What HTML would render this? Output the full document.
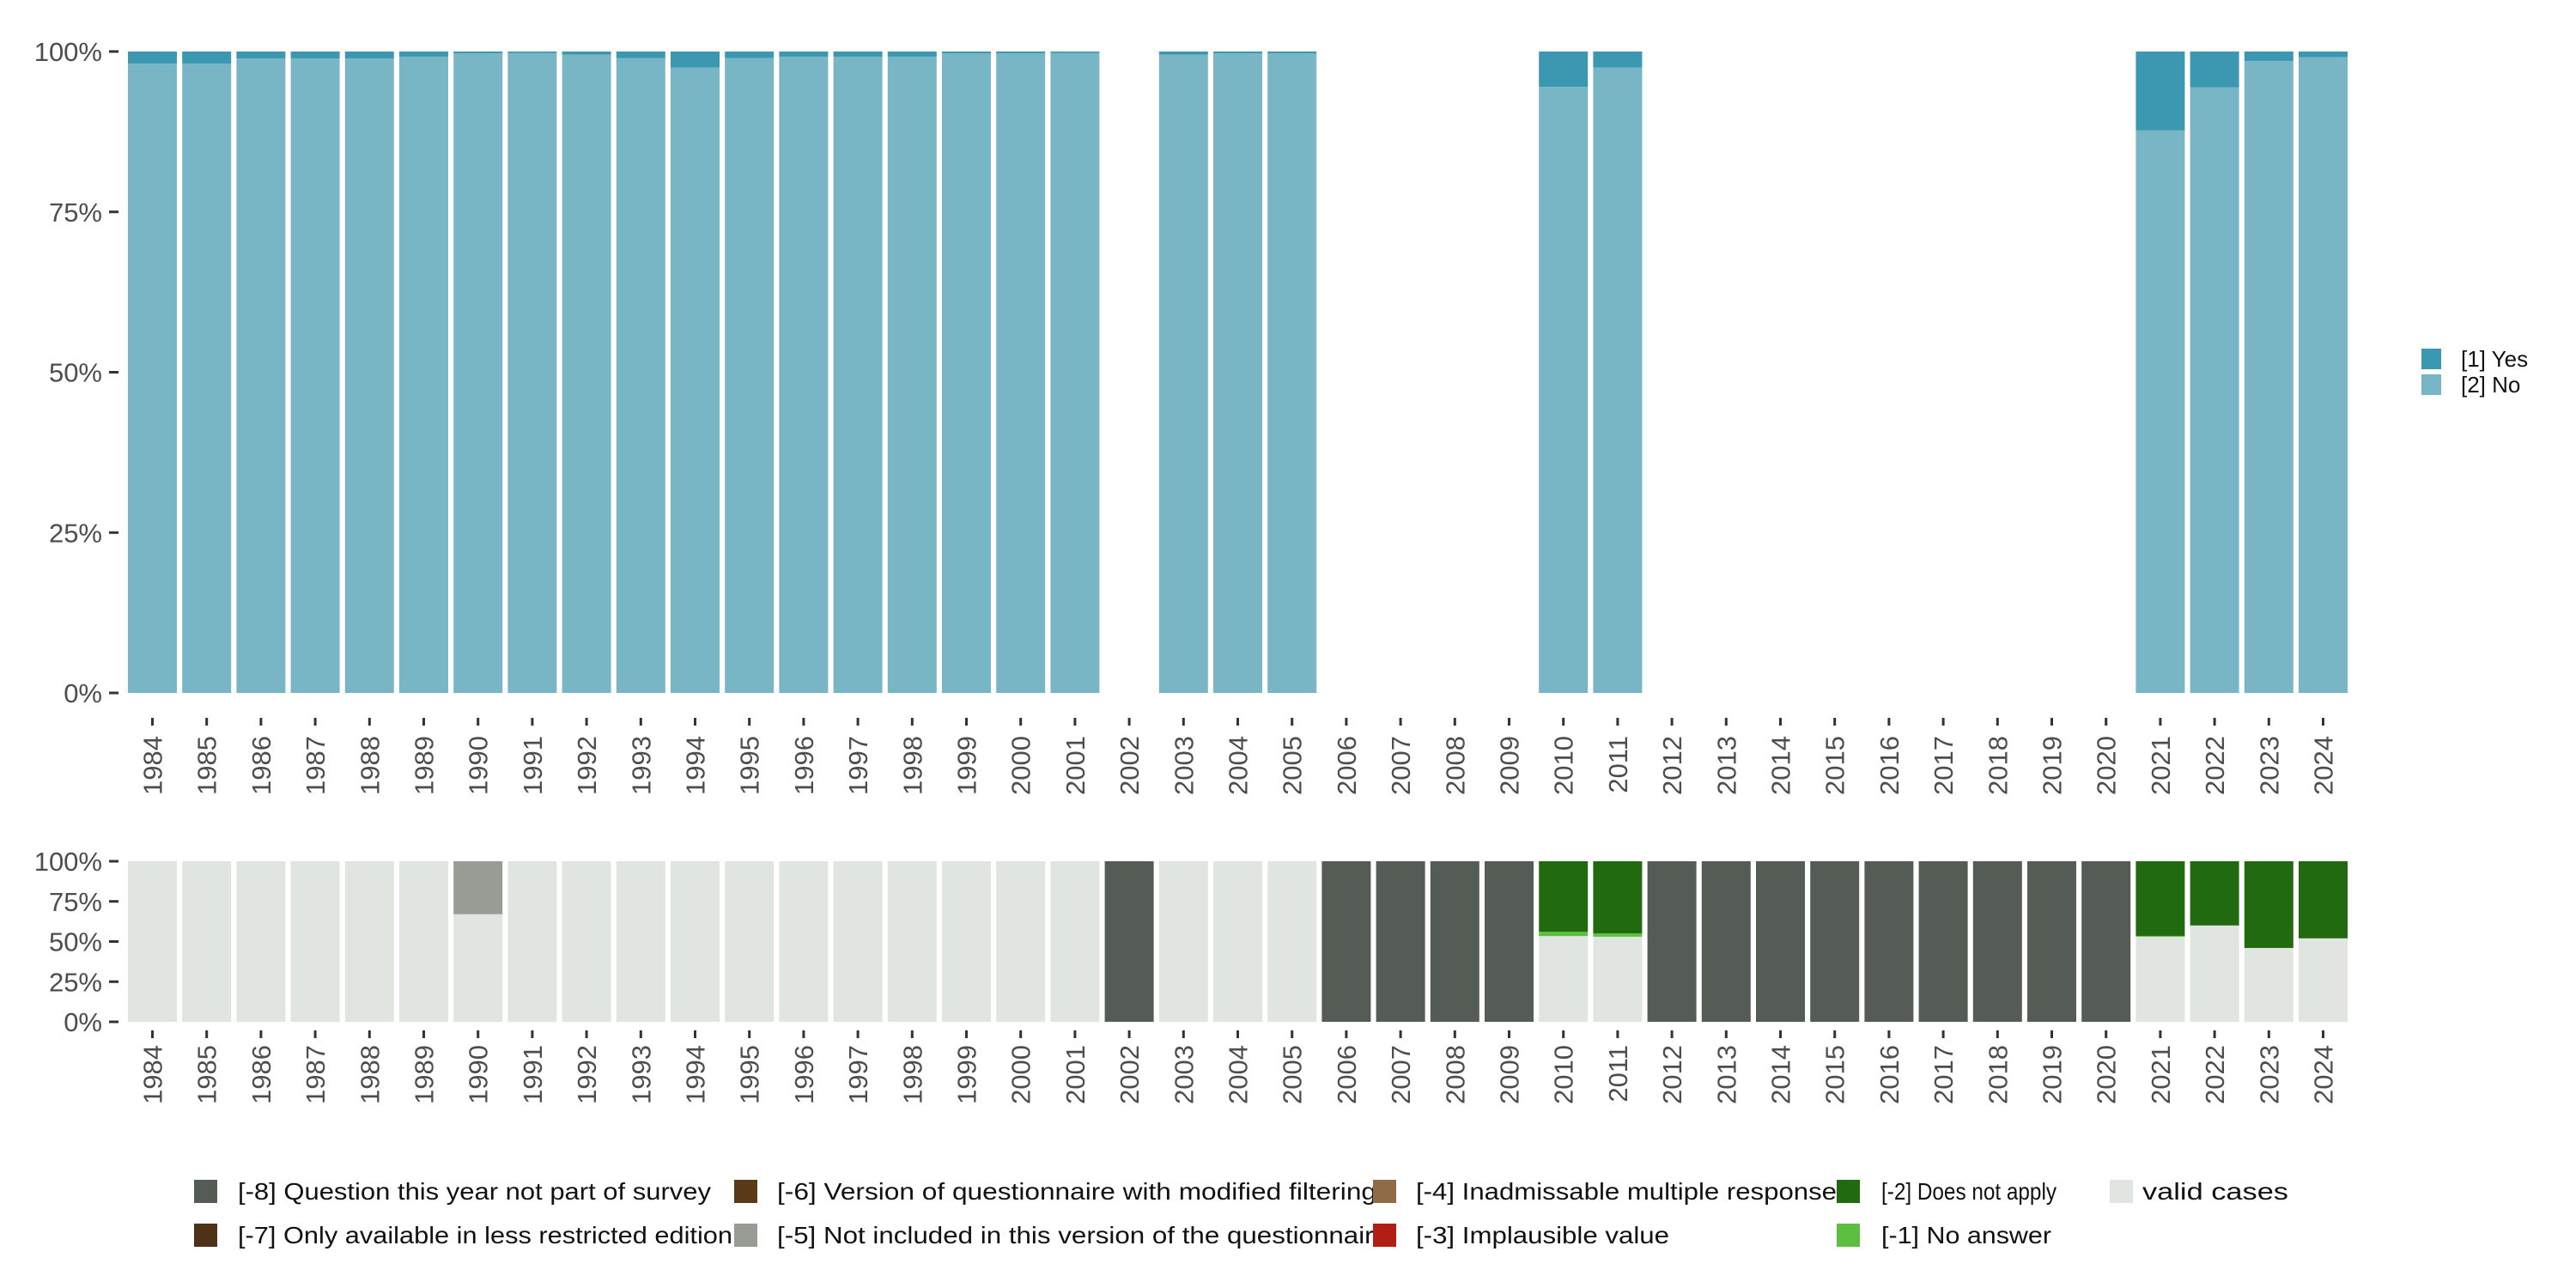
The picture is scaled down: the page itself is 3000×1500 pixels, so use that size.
<!DOCTYPE html>
<html><head><meta charset="utf-8"><style>
body{margin:0;background:#fff}
svg{display:block;font-family:"Liberation Sans",sans-serif}
</style></head><body>
<svg id="chart" width="3000" height="1500" viewBox="0 0 3000 1500">
<g id="topPanel"></g>
<g id="botPanel"></g>
<g id="leg1"></g>
<g id="leg2"></g>
</svg>
<script>
const years=[1984,1985,1986,1987,1988,1989,1990,1991,1992,1993,1994,1995,1996,1997,1998,1999,2000,2001,2002,2003,2004,2005,2006,2007,2008,2009,2010,2011,2012,2013,2014,2015,2016,2017,2018,2019,2020,2021,2022,2023,2024];
// top panel: share of Yes (null = no data)
const yesShare=[1.9,1.9,1.1,1.1,1.1,0.8,0.3,0.2,0.5,1.0,2.5,1.0,0.8,0.8,0.8,0.3,0.3,0.2,null,0.5,0.3,0.3,null,null,null,null,5.5,2.5,null,null,null,null,null,null,null,null,null,12.3,5.6,1.5,0.9];
// bottom panel shares
const validShare=[100,100,100,100,100,100,67,100,100,100,100,100,100,100,100,100,100,100,0,100,100,100,0,0,0,0,53.4,53,0,0,0,0,0,0,0,0,0,53,60,46,52];
const noAnswerShare=[0,0,0,0,0,0,0,0,0,0,0,0,0,0,0,0,0,0,0,0,0,0,0,0,0,0,2.7,2.1,0,0,0,0,0,0,0,0,0,0.5,0,0,0];
const notApplyShare=[0,0,0,0,0,0,0,0,0,0,0,0,0,0,0,0,0,0,0,0,0,0,0,0,0,0,43.9,44.9,0,0,0,0,0,0,0,0,0,46.5,40,54,48];
const notInclShare=[0,0,0,0,0,0,33,0,0,0,0,0,0,0,0,0,0,0,0,0,0,0,0,0,0,0,0,0,0,0,0,0,0,0,0,0,0,0,0,0,0];
const notPartShare=[0,0,0,0,0,0,0,0,0,0,0,0,0,0,0,0,0,0,100,0,0,0,100,100,100,100,0,0,100,100,100,100,100,100,100,100,100,0,0,0,0];
const yTicks=[0,25,50,75,100];

const NS="http://www.w3.org/2000/svg";
function mk(tag,attrs,parent){const e=document.createElementNS(NS,tag);for(const k in attrs)e.setAttribute(k,attrs[k]);parent.appendChild(e);return e;}
const x0=149,pitch=63.2,bw=57;
function xs(i){return x0+i*pitch;}
function panel(g,y0,y100,tickY,labY,name){
  const ys=v=>y0-(y0-y100)*v/100;
  yTicks.forEach(t=>{
    const l=mk('rect',{x:127,y:ys(t)-1.5,width:11,height:3,fill:'#333'},g);
    
    
    const tx=mk('text',{x:119,y:ys(t)+11,'font-size':31,fill:'#4d4d4d','text-anchor':'end'},g);
    tx.textContent=t+'%';
    
    
  });
  years.forEach((yr,i)=>{
    const cx=xs(i)+bw/2;
    const tk=mk('rect',{x:cx-1.5,y:tickY,width:3,height:9,fill:'#333'},g);
    
    
    const tx=mk('text',{transform:`translate(${cx+11},${labY}) rotate(-90)`,'font-size':31,fill:'#4d4d4d','text-anchor':'end'},g);
    tx.textContent=yr;
    
    
  });
  return ys;
}
const topG=document.getElementById('topPanel'),botG=document.getElementById('botPanel');
const ysT=panel(topG,807,60,836,857,'top');
yesShare.forEach((v,i)=>{
  if(v===null)return;
  const no=mk('rect',{x:xs(i),y:ysT(100-v),width:bw,height:ysT(0)-ysT(100-v),fill:'#79b6c5'},topG);
  
  
  const ye=mk('rect',{x:xs(i),y:ysT(100),width:bw,height:ysT(100-v)-ysT(100),fill:'#3b98b0'},topG);
  
  
});
const ysB=panel(botG,1190,1003,1200,1217,'bottom');
const stack=[[validShare,'#e1e5e1','valid'],[noAnswerShare,'#5cbf3f','no-answer'],[notApplyShare,'#226a10','does-not-apply'],[notInclShare,'#999c95','not-included'],[notPartShare,'#555b55','not-part']];
years.forEach((yr,i)=>{
  let cum=0;
  stack.forEach(([arr,col,nm])=>{
    const v=arr[i]; if(!v)return;
    const r=mk('rect',{x:xs(i),y:ysB(cum+v),width:bw,height:ysB(cum)-ysB(cum+v),fill:col},botG);
    
    
    cum+=v;
  });
});
const l1=document.getElementById('leg1');
[['[1] Yes','#3b98b0',406],['[2] No','#79b6c5',436]].forEach(([t,c,y])=>{
  const s=mk('rect',{x:2820,y:y,width:23,height:24,fill:c},l1);
  
  
  const tx=mk('text',{x:2866,y:y+21,'font-size':26,fill:'#111'},l1);
  tx.textContent=t;
  
  
});
const l2=document.getElementById('leg2');
const legItems=[
 ['[-8] Question this year not part of survey','#555b55',226,277,1374,551],
 ['[-6] Version of questionnaire with modified filtering','#5a3a18',855,905,1374,698],
 ['[-4] Inadmissable multiple response','#8f6c48',1599,1649,1374,490],
 ['[-2] Does not apply','#226a10',2139,2191,1374,204],
 ['valid cases','#e1e5e1',2457,2495,1374,170],
 ['[-7] Only available in less restricted edition','#4f3118',226,277,1425,576],
 ['[-5] Not included in this version of the questionnaire','#999c95',855,905,1425,712],
 ['[-3] Implausible value','#b01e14',1599,1649,1425,295],
 ['[-1] No answer','#5cbf3f',2139,2191,1425,198]];
legItems.forEach(([t,c,sx,tx0,y,w])=>{
  const s=mk('rect',{x:sx,y:y,width:27,height:27,fill:c},l2);
  
  
  const tx=mk('text',{x:tx0,y:y+23,'font-size':28,fill:'#111',textLength:w,lengthAdjust:'spacingAndGlyphs'},l2);
  tx.textContent=t;
  
  
});
</script>
</body></html>
